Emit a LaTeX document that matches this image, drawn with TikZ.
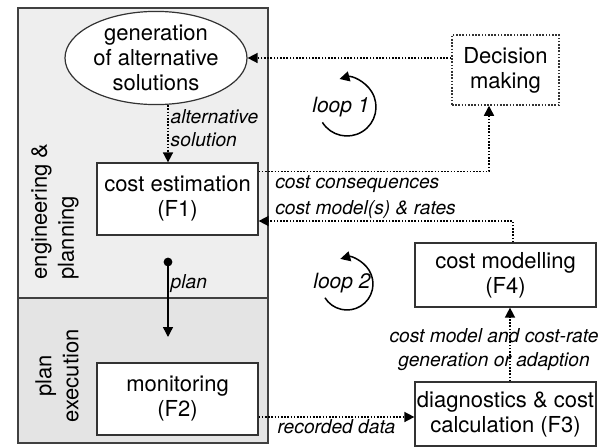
\documentclass[tikz,border=0pt]{standalone}
\usepackage{fontspec}
\setmainfont{TeX Gyre Heros}
\usetikzlibrary{shapes.geometric,arrows.meta,positioning}

\begin{document}
\begin{tikzpicture}[x=0.5pt,y=0.5pt,
  box/.style={draw=black!80,fill=white,line width=0.6pt,align=center,inner sep=0pt,font=\fontsize{11}{12.5}\selectfont},
  lbl/.style={font=\fontsize{9.6}{11.8}\selectfont\itshape,inner sep=1pt},
  tip/.style={-{Triangle[length=5pt,width=5pt]}},
  dots/.style={dash pattern=on 0.8pt off 0.8pt},
  flow/.style={line width=0.75pt,dots,tip},
  side/.style={rotate=90,font=\fontsize{11}{13.5}\selectfont}]
\useasboundingbox (0,0) rectangle (607,446);
\fill[gray!13] (18,148) rectangle (268,438);
\fill[gray!21] (18,3) rectangle (268,148);
\draw[black!75,line width=0.8pt] (18,3) rectangle (268,438);
\draw[black!75,line width=0.8pt] (18,148) -- (268,148);
\node[side,align=left] (eng) at (55,234.5) {engineering \&\\planning};
\node[side,align=center] (exe) at (57,70) {plan\\execution};
\node[box,ellipse,minimum width=91pt,minimum height=42pt] (gen) at (156,388) {generation\\of alternative\\solutions};
\node[box,minimum width=80.5pt,minimum height=36pt] (est) at (177.5,247) {cost estimation\\(F1)};
\node[box,minimum width=80.5pt,minimum height=36pt] (mon) at (177.5,47) {monitoring\\(F2)};
\node[box,dots,line width=0.75pt,minimum width=53.5pt,minimum height=35pt] (dec) at (505.5,376) {Decision\\making};
\node[box,minimum width=90.5pt,minimum height=32pt] (model) at (505.5,171) {cost modelling\\(F4)};
\node[box,minimum width=90.5pt,minimum height=32pt] (diag) at (505.5,32) {diagnostics \& cost\\calculation (F3)};
\draw[flow] (dec.west |- gen.east) -- (gen.east);
\draw[flow] ([xshift=6pt]gen.south) -- node[lbl,right,align=left,pos=0.4] {alternative\\solution} ([xshift=-4.75pt]est.north);
\draw[flow] ([yshift=-4.5pt]est.north east) -| node[lbl,anchor=north west,pos=0,xshift=7pt,yshift=-1pt] {cost consequences} ([xshift=-8.25pt]dec.south);
\draw[flow] ([xshift=3.75pt]model.north) |- node[lbl,anchor=south west,pos=1,xshift=7pt] {cost model(s) \& rates} ([yshift=-11pt]est.east);
\draw[flow] ([yshift=-9pt]mon.east) -- node[lbl,below] {recorded data} ([yshift=-9pt]mon.east -| diag.west);
\draw[flow] ([xshift=2.25pt]diag.north) -- node[lbl,align=center,pos=0.43,xshift=-8pt] {cost model and cost-rate\\generation or adaption} ([xshift=2.25pt]model.south);
\coordinate (p0) at (168,184);
\coordinate (p1) at (168,109);
\fill (p0) circle[radius=2.2pt];
\draw[line width=0.7pt,tip] (p0) -- node[lbl,right,pos=0.29] {plan} (p1);
\coordinate (c1) at (347,339);
\coordinate (c2) at (347,162);
\node[lbl,font=\fontsize{10.5}{12}\selectfont\itshape] (loopA) at (341,339) {loop 1};
\node[lbl,font=\fontsize{10.5}{12}\selectfont\itshape] (loopB) at (342,163) {loop 2};
\draw[line width=0.75pt,tip] ([shift={(212:29)}]c1) arc[start angle=212,end angle=465,radius=14.5pt];
\draw[line width=0.75pt,tip] ([shift={(212:26)}]c2) arc[start angle=212,end angle=465,radius=13pt];
\end{tikzpicture}
\end{document}
